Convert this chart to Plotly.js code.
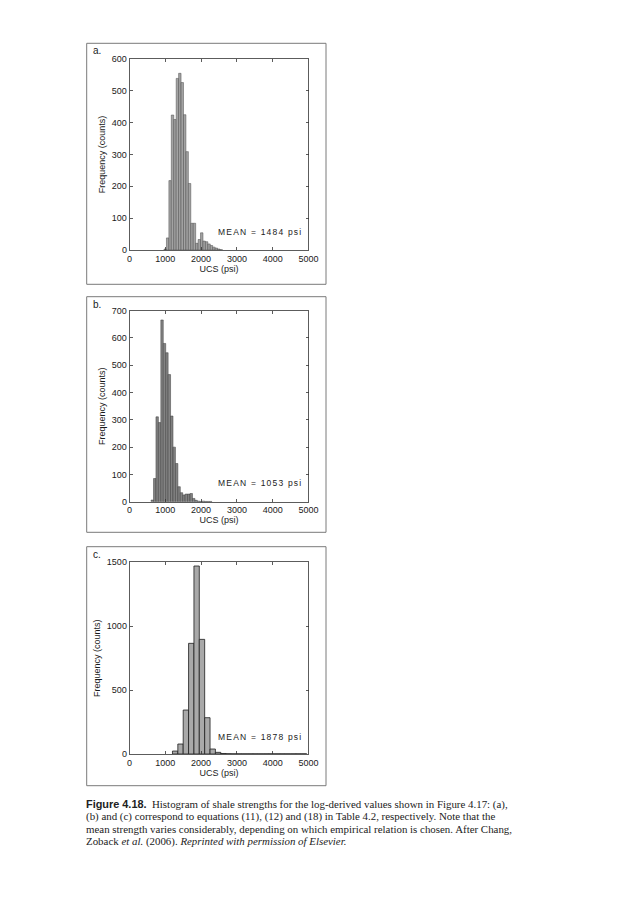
<!DOCTYPE html>
<html>
<head>
<meta charset="utf-8">
<script src="https://cdn.plot.ly/plotly-3.0.1.min.js"></script>
<style>
  html, body { margin: 0; padding: 0; background: #fff; }
  #chart { width: 633px; height: 900px; }
</style>
</head>
<body>
<div id="chart"></div>
<script>
// ---- Data ----
const xTicks = [0, 1000, 2000, 3000, 4000, 5000];

// Panel a: bin left edges (psi) and counts
const binWidthA = 68;
const edgesA = [964, 1032, 1100, 1168, 1236, 1304, 1372, 1440, 1508, 1576, 1644, 1712, 1780, 1848, 1916, 1984, 2052, 2120, 2188, 2256, 2324, 2392, 2460, 2528];
const countsA = [3, 38, 218, 424, 410, 539, 555, 526, 425, 309, 209, 84, 84, 21, 33, 54, 28, 26, 19, 14, 9, 6, 3, 1];
const meanA = 1484;

// Panel b
const binWidthB = 68;
const edgesB = [603, 671, 739, 807, 875, 943, 1011, 1079, 1147, 1215, 1283, 1351, 1419, 1487, 1555, 1623, 1691, 1759, 1827, 1895, 1963, 2031, 2099, 2167, 2235];
const countsB = [6, 85, 311, 290, 666, 580, 546, 466, 314, 200, 140, 55, 33, 25, 28, 28, 30, 12, 5, 2, 1, 2, 1, 1, 1];
const meanB = 1053;

// Panel c
const binWidthC = 150;
const edgesC = [1200, 1350, 1500, 1650, 1800, 1950, 2100, 2250, 2400, 2550, 2700, 2850, 3000, 3150, 3300, 3450, 3600, 3750, 3900, 4050, 4200, 4350, 4500, 4650, 4800];
const countsC = [23, 78, 344, 866, 1471, 897, 284, 39, 13, 4, 2, 1, 1, 1, 1, 1, 1, 1, 1, 1, 1, 1, 1, 1, 1];
const meanC = 1878;

const xTitle = 'UCS (psi)';
const yTitle = 'Frequency (counts)';
const panelLabels = ['a.', 'b.', 'c.'];

const captionLines = [
  '<span style="font-family:\'Liberation Sans Narrow\',\'Arial Narrow\',\'Liberation Sans\',sans-serif"><b>Figure 4.18.</b></span>  Histogram of shale strengths for the log-derived values shown in Figure 4.17: (a),',
  '(b) and (c) correspond to equations (11), (12) and (18) in Table 4.2, respectively. Note that the',
  'mean strength varies considerably, depending on which empirical relation is chosen. After Chang,',
  'Zoback <i>et al.</i> (2006). <i>Reprinted with permission of Elsevier.</i>'
];

// ---- Build ----
const W = 633, H = 900;
const sans = "'Liberation Sans', Arial, Helvetica, sans-serif";
const serif = "'Liberation Serif', 'Times New Roman', serif";

function px2x(px) { return px / W; }
function py2y(py) { return 1 - py / H; }

const plotX = [px2x(129.5), px2x(308.5)];
const panels = [
  { edges: edgesA, counts: countsA, w: binWidthA, mean: meanA, ymax: 600, dtick: 100, top: 59, bottom: 250, fill: '#a3a3a3', edge: '#4a4a4a', lw: 0.5, boxTop: 43.3, boxBot: 284.3 },
  { edges: edgesB, counts: countsB, w: binWidthB, mean: meanB, ymax: 700, dtick: 100, top: 310.7, bottom: 501.7, fill: '#838383', edge: '#3a3a3a', lw: 0.5, boxTop: 296.7, boxBot: 532.3 },
  { edges: edgesC, counts: countsC, w: binWidthC, mean: meanC, ymax: 1500, dtick: 500, top: 562.3, bottom: 754, fill: '#a9a9a9', edge: '#1e1e1e', lw: 0.8, boxTop: 546.7, boxBot: 785.7 }
];

const data = [];
const layout = {
  width: W, height: H,
  margin: { l: 0, r: 0, t: 0, b: 0 },
  paper_bgcolor: '#fff', plot_bgcolor: '#fff',
  showlegend: false,
  bargap: 0,
  font: { family: sans, color: '#222', size: 9 },
  shapes: [], annotations: []
};

panels.forEach((p, i) => {
  const xa = i === 0 ? 'x' : 'x' + (i + 1);
  const ya = i === 0 ? 'y' : 'y' + (i + 1);
  data.push({
    type: 'bar', x: p.edges, y: p.counts,
    width: p.edges.map(() => p.w), offset: 0,
    xaxis: xa, yaxis: ya,
    marker: { color: p.fill, line: { color: p.edge, width: p.lw } },
    hoverinfo: 'x+y'
  });
  const axCommon = {
    showline: true, mirror: 'ticks', linecolor: '#333', linewidth: 0.8,
    ticks: 'inside', ticklen: 3, tickwidth: 0.8, tickcolor: '#333',
    showgrid: false, zeroline: false,
    tickfont: { family: sans, size: 9, color: '#1a1a1a' }
  };
  layout['xaxis' + (i === 0 ? '' : i + 1)] = Object.assign({}, axCommon, {
    domain: plotX, anchor: ya, range: [0, 5000], tickvals: xTicks,
    title: { text: xTitle, font: { family: sans, size: 9, color: '#1a1a1a' }, standoff: 2 }
  });
  layout['yaxis' + (i === 0 ? '' : i + 1)] = Object.assign({}, axCommon, {
    domain: [py2y(p.bottom), py2y(p.top)], anchor: xa, range: [0, p.ymax], dtick: p.dtick,
    title: { text: yTitle, font: { family: sans, size: 9, color: '#1a1a1a' }, standoff: 4 }
  });
  // outer frame
  layout.shapes.push({
    type: 'rect', xref: 'paper', yref: 'paper',
    x0: px2x(86.7), x1: px2x(326), y0: py2y(p.boxBot), y1: py2y(p.boxTop),
    line: { color: '#7a7a7a', width: 1 }, fillcolor: 'rgba(0,0,0,0)', layer: 'below'
  });
  // panel label
  layout.annotations.push({
    xref: 'paper', yref: 'paper', x: px2x(91), y: py2y(p.boxTop + 7.5),
    xanchor: 'left', yanchor: 'middle', showarrow: false,
    text: panelLabels[i], font: { family: sans, size: 10, color: '#222' }
  });
  // mean label
  layout.annotations.push({
    xref: xa + ' domain', yref: ya + ' domain', x: (260 - 129.5) / 179, y: i === 0 ? 0.096 : (i === 1 ? 0.1 : 0.087),
    xanchor: 'center', yanchor: 'middle', showarrow: false,
    text: '<span style="letter-spacing:1.2px">MEAN = ' + p.mean + ' psi</span>',
    font: { family: sans, size: 8.5, color: '#222' }
  });
});

const capY = [804.4, 816.6, 828.8, 841.0];
captionLines.forEach((t, k) => {
  layout.annotations.push({
    xref: 'paper', yref: 'paper', x: px2x(85), y: py2y(capY[k]),
    xanchor: 'left', yanchor: 'middle', showarrow: false, align: 'left',
    borderpad: 0,
    text: t, font: { family: serif, size: 10.9, color: '#222' }
  });
});

Plotly.newPlot('chart', data, layout, { displayModeBar: false, staticPlot: true });
</script>
</body>
</html>
